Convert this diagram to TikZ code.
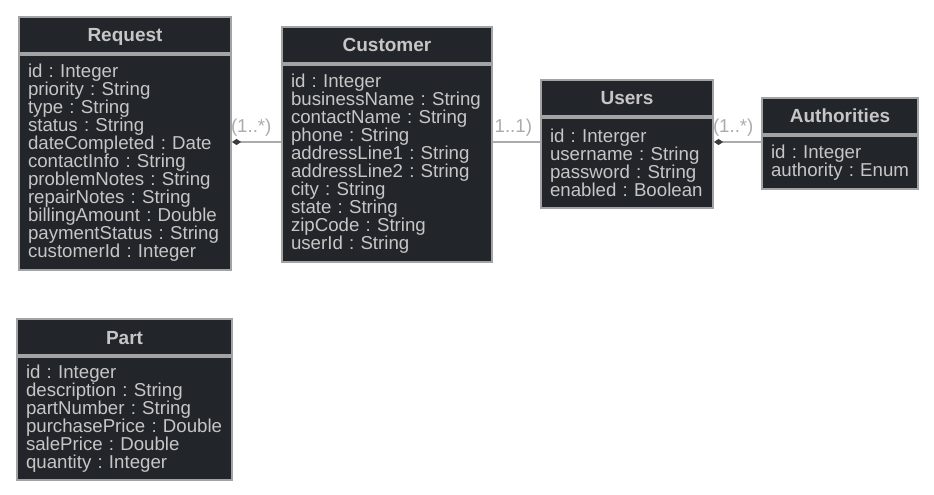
\documentclass[tikz,border=0pt]{standalone}
\usepackage{fontspec}
\setmainfont{Liberation Sans}
\usetikzlibrary{arrows.meta}

\definecolor{boxfill}{HTML}{22252A}
\definecolor{boxline}{HTML}{A3A3A3}
\definecolor{boxtext}{HTML}{C6C6C6}
\definecolor{linkline}{HTML}{ABABAB}
\definecolor{diamondfill}{HTML}{3A3C40}

\tikzset{every picture/.style={line width=0.75pt},
	classhead/.style={draw=boxline, fill=boxfill, line width=1.5pt, text=boxtext, anchor=north west, minimum height=27pt, inner sep=0pt, text height=10.5pt, text depth=0pt, font=\fontsize{14.25pt}{13.5pt}\selectfont\bfseries},
	classbody/.style={draw=boxline, fill=boxfill, line width=1.5pt, text=boxtext, anchor=north, inner sep=0pt, align=left, minimum width=#1, text width=#1, execute at begin node={\leftskip=6.75pt}, font=\fontsize{14pt}{13.5pt}\selectfont\frenchspacing},
	mult/.style={text=linkline, anchor=base west, inner sep=0pt, xshift=-1.5pt, yshift=6.75pt, font=\fontsize{14pt}{13.5pt}\selectfont},
	link/.style={draw=linkline, line width=1.5pt},
	own/.style={{Diamond[length=6.75pt,width=4.5pt,line width=0.5pt,color=diamondfill,fill=diamondfill]}-}
}

\begin{document}
\begin{tikzpicture}[x=0.75pt,y=0.75pt,yscale=-1,xscale=1]
	\useasboundingbox (0,0) rectangle (934,495); %diagram is 934 x 495
	
	%Shape: Class [id:request] 
	\node [classhead, minimum width=159pt] (reqhead) at (18,16) {Request};
	\node [classbody=159pt, minimum height=161.25pt] (reqbody) at (reqhead.south) {id : Integer\\priority : String\\type : String\\status : String\\dateCompleted : Date\\contactInfo : String\\problemNotes : String\\repairNotes : String\\billingAmount : Double\\paymentStatus : String\\customerId : Integer};
	%Shape: Class [id:customer] 
	\node [classhead, minimum width=157.5pt] (cushead) at (281,26) {Customer};
	\node [classbody=157.5pt, minimum height=147.75pt] (cusbody) at (cushead.south) {id : Integer\\businessName : String\\contactName : String\\phone : String\\addressLine1 : String\\addressLine2 : String\\city : String\\state : String\\zipCode : String\\userId : String};
	%Shape: Class [id:users] 
	\node [classhead, minimum width=129pt] (usrhead) at (540,79) {Users};
	\node [classbody=129pt, minimum height=67.5pt] (usrbody) at (usrhead.south) {id : Interger\\username : String\\password : String\\enabled : Boolean};
	%Shape: Class [id:authorities] 
	\node [classhead, minimum width=117pt] (authead) at (761,97) {Authorities};
	\node [classbody=117pt, minimum height=39.75pt] (autbody) at (authead.south) {id : Integer\\authority : Enum};
	%Shape: Class [id:part] 
	\node [classhead, minimum width=161.25pt] (parthead) at (16,318) {Part};
	\node [classbody=161.25pt, minimum height=92.25pt] (partbody) at (parthead.south) {id : Integer\\description : String\\partNumber : String\\purchasePrice : Double\\salePrice : Double\\quantity : Integer};
	
	% Connection
	\coordinate (linkrow) at (0,142);
	\draw [link, own] (reqbody.east |- linkrow) -- (cusbody.west |- linkrow) node [pos=0, mult] {(1..*)};
	% Connection
	\draw [link] (cusbody.east |- linkrow) -- (usrbody.west |- linkrow) node [pos=0, mult, xshift=2pt] {1..1)};
	% Connection
	\draw [link, own] (usrbody.east |- linkrow) -- (autbody.west |- linkrow) node [pos=0, mult] {(1..*)};
	
\end{tikzpicture}
\end{document}
